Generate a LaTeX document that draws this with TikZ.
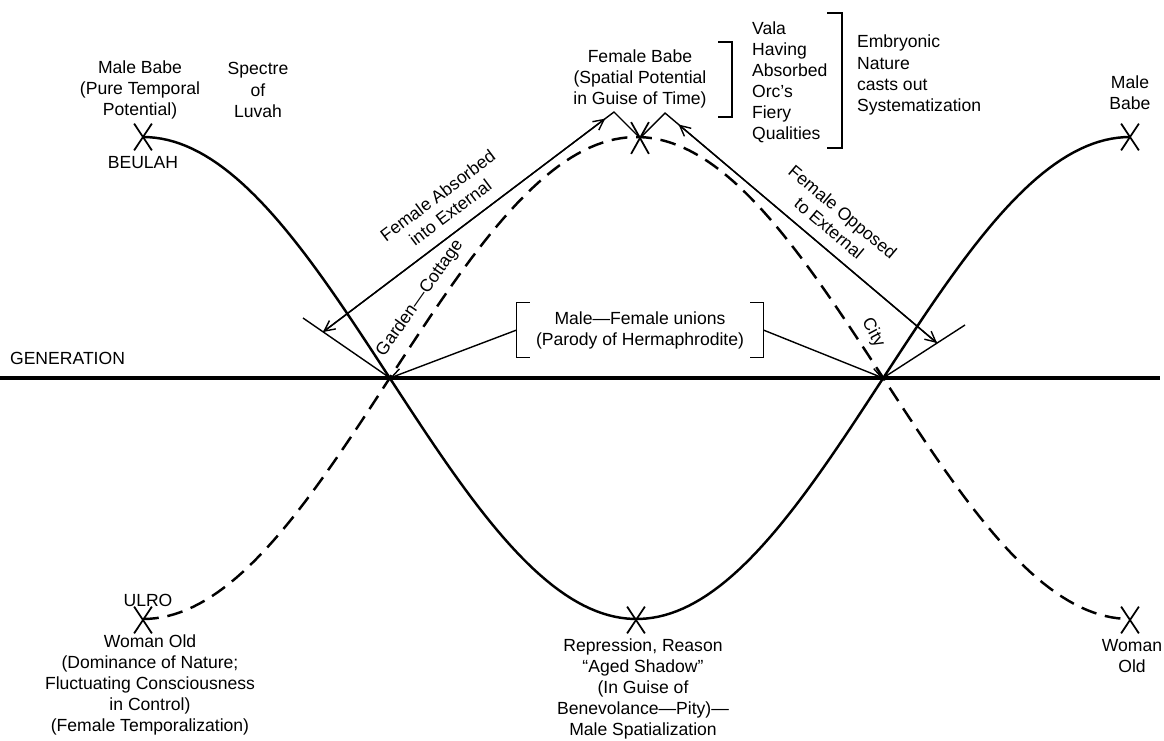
\documentclass[tikz,border=0pt]{standalone}
\usepackage{fontspec}
\setmainfont{Liberation Sans}
\usetikzlibrary{arrows.meta, shapes.misc, calc}

\begin{document}
\begin{tikzpicture}[
    x=0.02cm, y=-0.02cm,
    txt/.style={align=center, font=\fontsize{10}{12}\selectfont, inner sep=1pt},
    txtL/.style={align=left, anchor=west, font=\fontsize{10}{12}\selectfont, inner sep=1pt},
    xmark/.style={draw, cross out, minimum width=3.2mm, minimum height=5mm, inner sep=0pt, line width=1pt},
    wave/.style={line width=1.4pt},
    wavedash/.style={line width=1.4pt, dash pattern=on 9pt off 5pt},
    thinline/.style={line width=0.8pt},
    seta/.style={line width=0.8pt, -{Straight Barb[length=6pt,width=6pt]}},
    setaF/.style={line width=0.8pt, -{Straight Barb[length=6pt,width=6pt]}}
  ]
    \useasboundingbox (0,0) rectangle (1164,741);

    % generation line and crossings
    \coordinate (genL) at (0,378);
    \coordinate (genR) at (1160,378);
    \coordinate (A) at (390,378);
    \coordinate (B) at (883,378);
    \draw[line width=2.2pt] (genL) -- (genR);
    \node[txtL] (generation) at (8,358) {GENERATION};

    % the two waves
    \draw[wave] plot[domain=143:1130, samples=160] (\x, {378-241*cos((\x-143)/987*360)});
    \draw[wavedash] plot[domain=143:1130, samples=160] (\x, {378+241*cos((\x-143)/987*360)});

    % crosses
    \node[xmark] (xBabeL) at (143,137) {};
    \node[xmark] (xBabeR) at (1130,137) {};
    \node[xmark, minimum height=6mm] (xFemale) at (640,138) {};
    \node[xmark] (xUlro) at (143,620) {};
    \node[xmark] (xRepr) at (636,620) {};
    \node[xmark] (xOldR) at (1130,620) {};

    % top labels
    \node[txt] (maleBabeL) at (140,90) {Male Babe\\(Pure Temporal\\Potential)};
    \node[txt] (spectre) at (258,90) {Spectre\\of\\Luvah};
    \node[txt] (beulah) at (143,163) {BEULAH};
    \node[txt] (femaleBabe) at (640,79) {Female Babe\\(Spatial Potential\\in Guise of Time)};
    \node[txtL] (vala) at (750,82) {Vala\\Having\\Absorbed\\Orc's\\Fiery\\Qualities};
    \node[txtL] (embryonic) at (855,75) {Embryonic\\Nature\\casts out\\Systematization};
    \node[txt] (maleBabeR) at (1130,93) {Male\\Babe};
    \draw[thinline] (718,42) -- (732,42) -- (732,117) -- (718,117);
    \draw[thinline] (827,13) -- (842,13) -- (842,148) -- (827,148);

    % female arrows
    \coordinate (apexL) at (614,112);
    \coordinate (apexR) at (665,113);
    \coordinate (tickL) at (303,318);
    \coordinate (tipL) at (323,332);
    \coordinate (tickR) at (965,325);
    \coordinate (tipR) at (937,343);
    \draw[thinline] (tickL) -- (A);
    \draw[thinline] (tickR) -- (B);
    \draw[thinline] (tipL) -- (apexL) -- (xFemale.center) -- (apexR) -- (tipR);
    \draw[seta] ($(tipL)!0.5!(apexL)$) -- (tipL);
    \draw[seta] ($(tipL)!0.5!(apexL)$) -- ($(tipL)!0.97!(apexL)$);
    \draw[seta] ($(apexR)!0.5!(tipR)$) -- (tipR);
    \draw[seta] ($(apexR)!0.5!(tipR)$) -- ($(apexR)!0.05!(tipR)$);
    \node[txt, rotate=37] (absorbed) at (444,204) {Female Absorbed\\into External};
    \node[txt, rotate=-40] (opposed) at (836,220) {Female Opposed\\to External};
    \node[txt, rotate=55] (garden) at (420,298) {Garden---Cottage};
    \node[txt, rotate=-62] (city) at (873,333) {City};

    % unions
    \node[txt, minimum width=4.92cm, minimum height=1.08cm] (unions) at (640,330) {Male---Female unions\\(Parody of Hermaphrodite)};
    \draw[thinline] ([xshift=0.26cm]unions.north west) -- (unions.north west) -- (unions.south west) -- ([xshift=0.26cm]unions.south west);
    \draw[thinline] ([xshift=-0.26cm]unions.north east) -- (unions.north east) -- (unions.south east) -- ([xshift=-0.26cm]unions.south east);
    \draw[setaF] (unions.west) -- (A);
    \draw[setaF] (unions.east) -- (B);

    % bottom labels
    \node[txt] (ulro) at (148,600) {ULRO};
    \node[txt] (womanOldL) at (150,685) {Woman Old\\(Dominance of Nature;\\Fluctuating Consciousness\\in Control)\\(Female Temporalization)};
    \node[txt] (repression) at (643,689) {Repression, Reason\\``Aged Shadow''\\(In Guise of\\Benevolance---Pity)---\\Male Spatialization};
    \node[txt] (womanOldR) at (1132,656) {Woman\\Old};
  \end{tikzpicture}
\end{document}
